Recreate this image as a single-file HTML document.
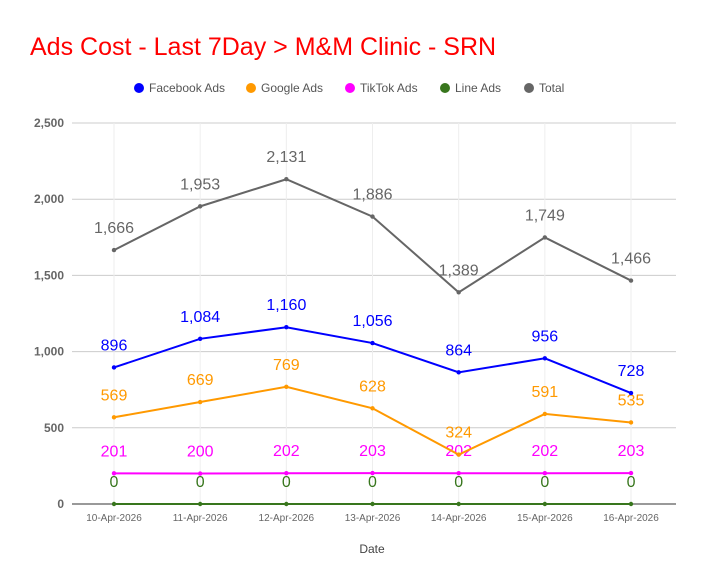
<!DOCTYPE html>
<html><head><meta charset="utf-8"><style>
body{margin:0;background:#fff;font-family:"Liberation Sans",sans-serif}
svg{display:block}
</style></head><body>
<svg id="c" width="704" height="585" xmlns="http://www.w3.org/2000/svg">
<text x="30" y="55" font-size="25" fill="#ff0000">Ads Cost - Last 7Day &gt; M&amp;M Clinic - SRN</text>
<text x="372" y="553" font-size="12" fill="#444" text-anchor="middle">Date</text>
<g id="legend"></g><g id="grid"></g><g id="marks"></g>
</svg>
<script>
const categories=["10-Apr-2026","11-Apr-2026","12-Apr-2026","13-Apr-2026","14-Apr-2026","15-Apr-2026","16-Apr-2026"];
const facebook=[896,1084,1160,1056,864,956,728];
const google=[569,669,769,628,324,591,535];
const tiktok=[201,200,202,203,202,202,203];
const lineAds=[0,0,0,0,0,0,0];
const total=[1666,1953,2131,1886,1389,1749,1466];
const yTicks=[0,500,1000,1500,2000,2500];
const seriesNames=["Facebook Ads","Google Ads","TikTok Ads","Line Ads","Total"];
const NS="http://www.w3.org/2000/svg";
const y=v=>504-v*(381/2500);
const x=i=>114+i*86.17;
function mk(t,a,p){const e=document.createElementNS(NS,t);for(const k in a)e.setAttribute(k,a[k]);p.appendChild(e);return e;}
const grid=document.getElementById('grid'),marks=document.getElementById('marks'),leg=document.getElementById('legend');
yTicks.forEach(v=>{
 const l=mk('line',{x1:72,x2:676,y1:y(v),y2:y(v),stroke:v===0?'#333':'#ccc','stroke-width':1},grid);
 
 
 const t=mk('text',{x:64,y:y(v)+4,'font-size':12,'font-weight':'bold',fill:'#666','text-anchor':'end'},grid);
 t.textContent=v.toLocaleString('en-US');
 
 
});
categories.forEach((c,i)=>{
 const l=mk('line',{x1:x(i),x2:x(i),y1:123,y2:504,stroke:'#eee','stroke-width':1},grid);
 
 
 const t=mk('text',{x:x(i),y:521,'font-size':10,fill:'#666','text-anchor':'middle'},grid);
 t.textContent=c;
 
 
});
const series=[[lineAds,'#38761d'],[tiktok,'#ff00ff'],[google,'#ff9900'],[facebook,'#0000ff'],[total,'#666666']];
series.forEach(([d,col],si)=>{
 const pts=d.map((v,i)=>x(i)+','+y(v)).join(' ');
 const pl=mk('polyline',{points:pts,fill:'none',stroke:col,'stroke-width':2},marks);
 
 
 d.forEach((v,i)=>{
  const c=mk('circle',{cx:x(i),cy:y(v),r:2.2,fill:col},marks);
  
  
  const t=mk('text',{x:x(i),y:y(v)-17,'font-size':16,fill:col,'text-anchor':'middle'},marks);
  t.textContent=v.toLocaleString('en-US');
  
  
 });
});
const legCols=['#0000ff','#ff9900','#ff00ff','#38761d','#666666'];
const legX=[134,246,345,440,524];
seriesNames.forEach((n,i)=>{
 const g=mk('g',{},leg);
 
 
 mk('circle',{cx:legX[i]+5,cy:88,r:5,fill:legCols[i]},g);
 const t=mk('text',{x:legX[i]+15,y:92,'font-size':12,fill:'#555'},g);
 t.textContent=n;
});
</script>
</body></html>
